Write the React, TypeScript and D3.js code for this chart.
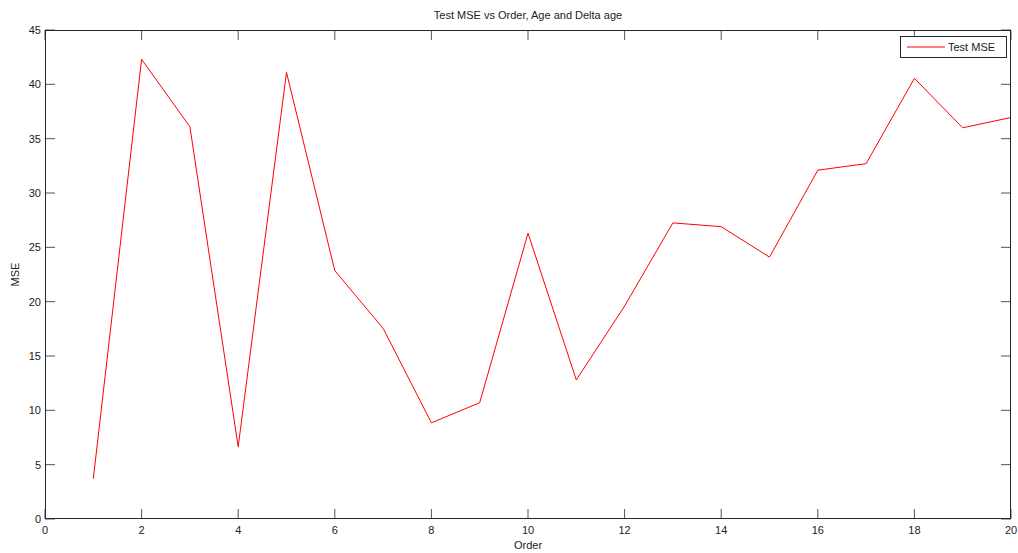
import React from "react";
import * as d3 from "d3";

// Test MSE for each model order
const orders = [1, 2, 3, 4, 5, 6, 7, 8, 9, 10, 11, 12, 13, 14, 15, 16, 17, 18, 19, 20];
const testMse = [3.7, 42.3, 36.1, 6.65, 41.1, 22.85, 17.55, 8.85, 10.7, 26.3, 12.8, 19.6, 27.25, 26.9, 24.1, 32.1, 32.7, 40.55, 36.0, 36.95];
const xTicks = [0, 2, 4, 6, 8, 10, 12, 14, 16, 18, 20];
const yTicks = [0, 5, 10, 15, 20, 25, 30, 35, 40, 45];

const W = 1018;
const H = 553;
const L = 45, R = 1011, T = 30, B = 519;
const FONT = "Liberation Sans, Arial, sans-serif";

export default function App() {
  const x = d3.scaleLinear().domain([0, 20]).range([L, R]);
  const y = d3.scaleLinear().domain([0, 45]).range([B, T]);
  const line = d3
    .line<number>()
    .x((_, i) => x(orders[i]))
    .y((d) => y(d));
  const tickLen = 10;
  const axisColor = "#262626";
  const tickColor = "#555";

  return (
    <svg
      width={W}
      height={H}
      style={{ position: "absolute", left: 0, top: 0, background: "#fff" }}
      fontFamily={FONT}
    >
      <rect x={0} y={0} width={W} height={H} fill="#fff" />
      <text x={(L + R) / 2} y={19} textAnchor="middle" fontSize={11} fill="#222">
        Test MSE vs Order, Age and Delta age
      </text>

      {/* ticks on all four sides, pointing inward */}
      {xTicks.map((t) => (
        <g key={"x" + t}>
          <line x1={x(t)} x2={x(t)} y1={B} y2={B - tickLen} stroke={tickColor} />
          <line x1={x(t)} x2={x(t)} y1={T} y2={T + tickLen} stroke={tickColor} />
          <text x={x(t)} y={B + 15} textAnchor="middle" fontSize={11} fill="#222">
            {t}
          </text>
        </g>
      ))}
      {yTicks.map((t) => (
        <g key={"y" + t}>
          <line x1={L} x2={L + tickLen} y1={y(t)} y2={y(t)} stroke={tickColor} />
          <line x1={R} x2={R - tickLen} y1={y(t)} y2={y(t)} stroke={tickColor} />
          <text x={L - 4} y={y(t) + 4} textAnchor="end" fontSize={11} fill="#222">
            {t}
          </text>
        </g>
      ))}

      <path d={line(testMse) ?? ""} fill="none" stroke="#ff0000" strokeWidth={1} />

      <rect
        x={L + 0.5}
        y={T + 0.5}
        width={R - L - 1}
        height={B - T - 1}
        fill="none"
        stroke={axisColor}
        strokeWidth={1}
      />

      <text x={(L + R) / 2} y={549} textAnchor="middle" fontSize={11} fill="#222">
        Order
      </text>
      <text
        transform={`translate(19, ${(T + B) / 2}) rotate(-90)`}
        textAnchor="middle"
        fontSize={11}
        fill="#222"
      >
        MSE
      </text>

      {/* legend */}
      <g>
        <rect x={900.5} y={36.5} width={106} height={21} fill="#fff" stroke={axisColor} />
        <line x1={907} x2={945} y1={47} y2={47} stroke="#ff0000" />
        <text x={948} y={51} fontSize={11} fill="#222">
          Test MSE
        </text>
      </g>
    </svg>
  );
}
